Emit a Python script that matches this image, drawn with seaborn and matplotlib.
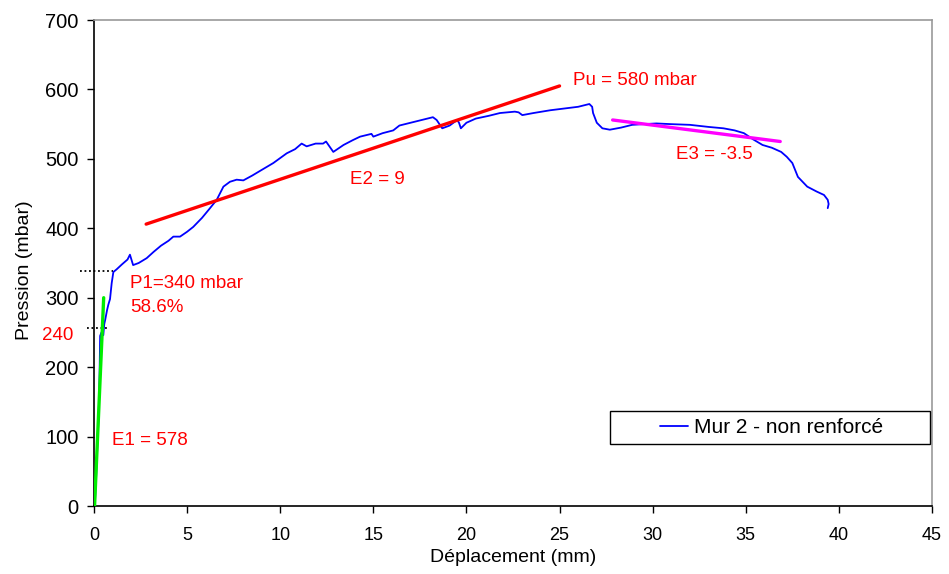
import matplotlib
matplotlib.use("Agg")
import matplotlib.pyplot as plt
from matplotlib.patches import Rectangle
import seaborn as sns
import pandas as pd

# Measured curve (Mur 2 - non renforcé)
disp = [0, 0.05, 0.12, 0.2, 0.25, 0.3, 0.33, 0.4, 0.5, 0.55, 0.6, 0.7, 0.77, 0.86, 0.95, 1.04,
        1.22, 1.5, 1.8, 1.93, 2.1, 2.4, 2.83, 3.2, 3.6, 4.0, 4.26, 4.62, 5.0, 5.33, 5.8, 6.2,
        6.59, 6.95, 7.3, 7.66, 8.02, 8.5, 9.0, 9.63, 10.35, 10.8, 11.15, 11.42, 11.9, 12.3,
        12.46, 12.85, 13.4, 13.9, 14.29, 14.9, 15.0, 15.5, 16.07, 16.4, 17.0, 17.6, 18.2, 18.4,
        18.7, 19.1, 19.5, 19.6, 19.7, 20.0, 20.5, 21.2, 21.8, 22.6, 22.8, 23.0, 23.6, 24.5,
        25.4, 26.0, 26.6, 26.75, 26.8, 27.0, 27.3, 27.7, 28.3, 28.9, 29.5, 30.2, 31.0, 32.0,
        33.0, 33.8, 34.4, 34.9, 35.4, 35.9, 36.4, 36.9, 37.2, 37.5, 37.8, 38.3, 38.8, 39.2,
        39.4, 39.45, 39.4]
pression = [0, 5, 45, 100, 130, 190, 245, 250, 246, 262, 268, 282, 290, 298, 321, 337,
            341, 348, 355, 362, 347, 350, 357, 366, 375, 382, 388, 388, 395, 402, 415, 428,
            441, 460, 467, 470, 469, 476, 484, 494, 508, 514, 522, 518, 522, 522,
            525, 510, 520, 527, 532, 536, 532, 537, 541, 548, 552, 556, 560, 556,
            544, 548, 556, 552, 544, 552, 558, 562, 566, 568, 567, 563, 566, 570,
            573, 575, 579, 575, 566, 552, 544, 542, 545, 549, 550, 551, 550, 549,
            546, 544, 541, 537, 528, 520, 516, 510, 503, 494, 474, 460, 453, 448,
            441, 435, 429]

# Fitted lines
e1_x = [0.03, 0.52]
e1_y = [0, 300]
e2_x = [2.8, 25.0]
e2_y = [406, 605]
e3_x = [27.85, 36.85]
e3_y = [556, 525]

# Reference levels (dotted)
p1_x = [-0.75, 1.0]
p1_y = [338, 338]
p240_x = [-0.4, 0.7]
p240_y = [256, 256]

x_ticks = [0, 5, 10, 15, 20, 25, 30, 35, 40, 45]
y_ticks = [0, 100, 200, 300, 400, 500, 600, 700]

sns.set_theme(style="white")
plt.rcParams['font.family'] = ['Liberation Sans', 'DejaVu Sans']
plt.rcParams['text.color'] = 'black'

fig = plt.figure(figsize=(9.49, 5.74), dpi=100)
ax = fig.add_axes([94/949, 68/574, 838/949, 486/574])

df = pd.DataFrame({"disp": disp, "p": pression})
sns.lineplot(data=df, x="disp", y="p", sort=False, estimator=None, color="#0000ff",
             linewidth=1.3, ax=ax, label="Mur 2 - non renforcé", zorder=3)
sns.lineplot(x=e1_x, y=e1_y, color="#00ee00", linewidth=2.4, ax=ax, zorder=4)
sns.lineplot(x=e2_x, y=e2_y, color="#ff0000", linewidth=2.4, ax=ax, zorder=4)
sns.lineplot(x=e3_x, y=e3_y, color="#ff00ff", linewidth=2.4, ax=ax, zorder=4)
ax.plot(p1_x, p1_y, color="black", linestyle=(0, (1, 1.5)), linewidth=1.3, clip_on=False, zorder=2)
ax.plot(p240_x, p240_y, color="black", linestyle=(0, (1, 1.5)), linewidth=1.3, clip_on=False, zorder=2)

ax.set_xlim(0, 45)
ax.set_ylim(0, 700)
ax.set_xticks(x_ticks)
ax.set_yticks(y_ticks)
ax.tick_params(axis="both", which="both", direction="out", length=5, width=1,
               color="black", labelcolor="black", bottom=True, left=True)
ax.tick_params(axis="x", pad=10, labelsize=13)
ax.tick_params(axis="y", pad=6, labelsize=14.5)
ax.set_xlabel("Déplacement (mm)", fontsize=14, color="black")
ax.set_ylabel("Pression (mbar)", fontsize=14, color="black")
ax.xaxis.set_label_coords(0.5, -0.088)
ax.yaxis.set_label_coords(-0.073, 0.486)

for side in ["left", "bottom"]:
    ax.spines[side].set_color("black")
    ax.spines[side].set_linewidth(1.2)
for side in ["top", "right"]:
    ax.spines[side].set_color("#999999")
    ax.spines[side].set_linewidth(1.2)

red = "#ff0000"
fs = 13.5
ax.text(25.7, 613, "Pu = 580 mbar", color=red, fontsize=fs, va="center", ha="left")
ax.text(13.75, 470, "E2 = 9", color=red, fontsize=fs, va="center", ha="left")
ax.text(31.25, 506, "E3 = -3.5", color=red, fontsize=fs, va="center", ha="left")
ax.text(1.93, 321, "P1=340 mbar", color=red, fontsize=fs, va="center", ha="left")
ax.text(1.93, 286, "58.6%", color=red, fontsize=fs, va="center", ha="left")
ax.text(0.97, 95, "E1 = 578", color=red, fontsize=fs, va="center", ha="left")
ax.text(-1.1, 246, "240", color=red, fontsize=fs, va="center", ha="right", clip_on=False)

# Legend box (frame drawn separately so content is centred as in the original)
box_x0, box_y0, box_w, box_h = (610-94)/838, (506-444)/486, (930-610)/838, 33/486
ax.add_patch(Rectangle((box_x0, box_y0), box_w, box_h, transform=ax.transAxes,
                       facecolor="white", edgecolor="black", linewidth=1.0, zorder=5))
leg = ax.legend(loc="center", bbox_to_anchor=(box_x0 + box_w/2 + 0.002, box_y0 + box_h/2),
                frameon=False, fontsize=15, handlelength=1.35, labelcolor="black",
                borderpad=0.0, handletextpad=0.3, borderaxespad=0)
leg.set_zorder(6)

fig.savefig("out.png", dpi=100)
